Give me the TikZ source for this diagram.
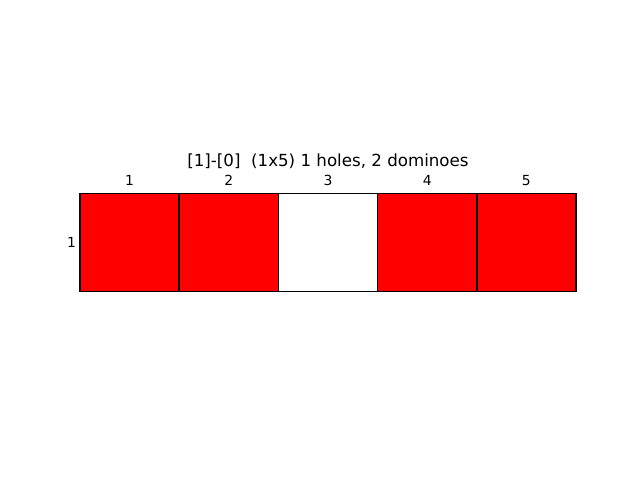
\documentclass[tikz,border=0pt]{standalone}
\usepackage{fontspec}
\setmainfont{DejaVu Sans}
\begin{document}
\begin{tikzpicture}[x=0.72pt,y=-0.72pt,
  cell/.style={minimum width=71.42pt,minimum height=70.85pt,inner sep=0pt,outer sep=0pt},
  domino/.style={cell,fill=red},
  hole/.style={cell,fill=white},
  edge/.style={draw=black,line width=1.1pt},
  lbl/.style={font=\fontsize{10}{12}\selectfont,inner sep=0pt,anchor=base},
  ttl/.style={font=\fontsize{12}{14}\selectfont,inner sep=0pt,anchor=base}]
\useasboundingbox (0,0) rectangle (640,480);
\node[domino] (c1) at (129.6,242.5) {};
\node[domino] (c2) at (228.8,242.5) {};
\node[hole]   (c3) at (328.0,242.5) {};
\node[domino] (c4) at (427.2,242.5) {};
\node[domino] (c5) at (526.4,242.5) {};
\foreach \c in {c1,c2,c3,c4,c5}
  \draw[edge] (\c.north west) rectangle (\c.south east);
\node[ttl] (title) at (328,166.5) {[1]-[0]\ \ (1x5) 1 holes, 2 dominoes};
\node[lbl] (l1) at (129.6,185) {1};
\node[lbl] (l2) at (228.8,185) {2};
\node[lbl] (l3) at (328.0,185) {3};
\node[lbl] (l4) at (427.2,185) {4};
\node[lbl] (l5) at (526.4,185) {5};
\node[lbl] (r1) at (71.5,247) {1};
\end{tikzpicture}
\end{document}
